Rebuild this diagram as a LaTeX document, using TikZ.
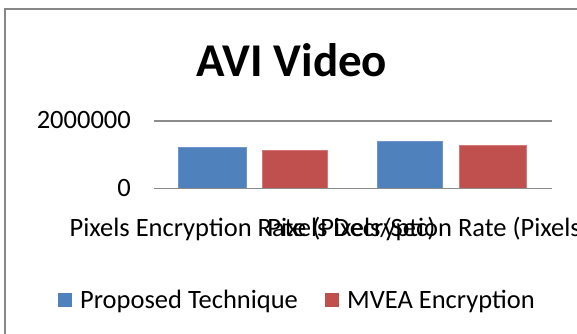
\documentclass[tikz,border=0pt]{standalone}
\usepackage{fontspec}
\setmainfont{Carlito}
\begin{document}
\begin{tikzpicture}[x=1pt,y=-1pt,
  frame/.style={draw=black!47,line width=2pt},
  gridline/.style={draw=black!45,line width=1.3pt},
  seriesA/.style={fill={rgb,255:red,79;green,129;blue,189},draw={rgb,255:red,110;green,150;blue,205},line width=0.6pt},
  seriesB/.style={fill={rgb,255:red,192;green,80;blue,77},draw={rgb,255:red,215;green,120;blue,118},line width=0.6pt},
  lbl/.style={inner sep=0pt,anchor=base,font=\fontsize{26.5}{30}\selectfont},
  ticklbl/.style={lbl,anchor=base east},
  titlelbl/.style={inner sep=0pt,anchor=base,font=\fontsize{47}{52}\selectfont\bfseries}]
\useasboundingbox (0,0) rectangle (577,333);
\fill[white] (0,0) rectangle (577,333);
\clip (0,0) rectangle (577,333);
% chart area border (runs past the right and bottom edges)
\draw[frame] (5,9) rectangle (600,360);
% title
\node[titlelbl] (title) at (292,76) {AVI Video};
% value axis: gridline and baseline
\draw[gridline] (154,121) -- (552,121);
\node[ticklbl] (t2m) at (131,128) {2000000};
\node[ticklbl] (t0) at (131,196) {0};
% bars
\filldraw[seriesA] (178,188.5) rectangle (246,147.3);
\filldraw[seriesB] (262,188.5) rectangle (327,150);
\filldraw[seriesA] (377,188.5) rectangle (442,141);
\filldraw[seriesB] (459,188.5) rectangle (526,145);
\draw[gridline] (154,188.5) -- (552,188.5);
% category labels (they overlap each other)
\node[lbl] (cat1) at (252.5,236) {Pixels Encryption Rate (Pixels/Sec)};
\node[lbl] (cat2) at (451.5,236) {Pixels Decryption Rate (Pixels/Sec)};
% legend
\fill[seriesA,draw=none] (58,293) rectangle (72,307);
\node[lbl,anchor=base west] (legA) at (80,308) {Proposed Technique};
\fill[seriesB,draw=none] (325,293) rectangle (339,307);
\node[lbl,anchor=base west] (legB) at (347,308) {MVEA Encryption};
\end{tikzpicture}
\end{document}
